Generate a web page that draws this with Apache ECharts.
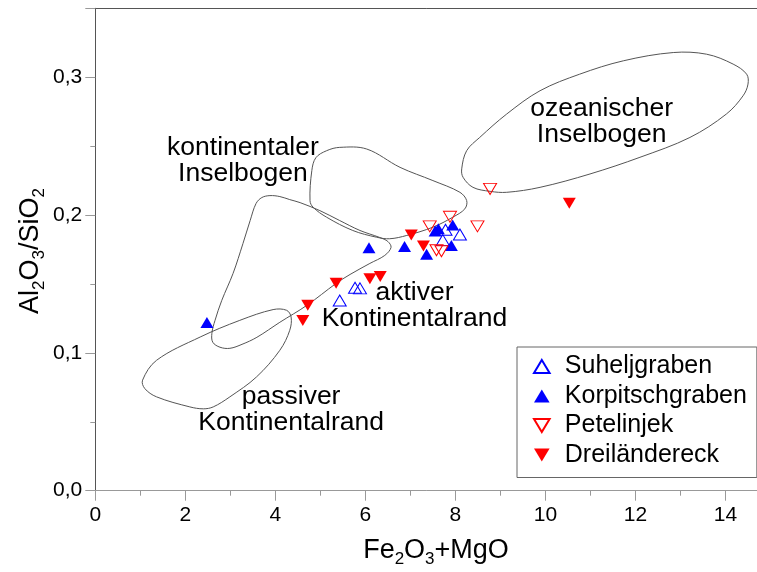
<!DOCTYPE html>
<html>
<head>
<meta charset="utf-8">
<script src="https://cdn.jsdelivr.net/npm/echarts@6/dist/echarts.min.js"></script>
<style>
  html, body { margin: 0; padding: 0; background: #fff; }
  #chart { width: 757px; height: 572px; }
</style>
</head>
<body>
<div id="chart"></div>
<script>
// Sample groups: [Fe2O3+MgO, Al2O3/SiO2]
const suheljgraben = [
  [5.43, 0.1380], [5.77, 0.1473], [5.88, 0.1468],
  [7.78, 0.1893], [8.10, 0.1859], [7.72, 0.1818]
];
const korpitschgraben = [
  [2.48, 0.1220], [6.08, 0.1762], [6.87, 0.1772], [7.36, 0.1715],
  [7.55, 0.1885], [7.62, 0.1900], [7.94, 0.1928], [7.91, 0.1779]
];
const petelinjek = [
  [7.43, 0.1918], [7.88, 0.1987], [8.49, 0.1918],
  [8.77, 0.2190], [7.58, 0.1745], [7.69, 0.1737]
];
const dreilaendereck = [
  [4.61, 0.1234], [4.72, 0.1345], [5.35, 0.1506], [6.10, 0.1538],
  [6.33, 0.1555], [7.02, 0.1855], [7.29, 0.1776], [10.53, 0.2086]
];

// Tectonic setting fields (outline vertices)
const fieldOzeanisch = [
  [8.14, 0.2335], [8.25, 0.2467], [8.54, 0.2563], [9.14, 0.2733], [9.88, 0.2902],
  [10.76, 0.3022], [11.73, 0.3119], [12.84, 0.3179], [13.58, 0.3167], [14.17, 0.3095],
  [14.47, 0.3022], [14.50, 0.2950], [14.39, 0.2865], [14.02, 0.2733], [13.21, 0.2563],
  [12.10, 0.2419], [10.99, 0.2298], [9.88, 0.2201], [9.14, 0.2165], [8.77, 0.2172],
  [8.39, 0.2201], [8.17, 0.2274]
];
const fieldKontinental = [
  [4.77, 0.2104], [4.81, 0.2322], [4.90, 0.2416], [5.14, 0.2467], [5.43, 0.2491],
  [6.03, 0.2479], [6.77, 0.2346], [7.50, 0.2250], [8.10, 0.2165], [8.25, 0.2105],
  [8.21, 0.2045], [7.94, 0.1984], [7.50, 0.1912], [6.92, 0.1852], [6.54, 0.1828],
  [6.25, 0.1839], [5.72, 0.1888], [5.14, 0.1984], [4.84, 0.2056]
];
const fieldAktiv = [
  [2.61, 0.1077], [2.59, 0.1142], [2.66, 0.1236], [2.81, 0.1381], [3.06, 0.1576],
  [3.28, 0.1793], [3.44, 0.1960], [3.57, 0.2083], [3.70, 0.2127], [3.88, 0.2141],
  [4.10, 0.2134], [4.32, 0.2112], [4.55, 0.2090], [4.99, 0.2032], [5.43, 0.1960],
  [5.88, 0.1888], [6.32, 0.1837], [6.50, 0.1808], [6.57, 0.1765], [6.43, 0.1707],
  [6.10, 0.1649], [5.66, 0.1569], [5.35, 0.1504], [4.70, 0.1345], [4.10, 0.1222],
  [3.59, 0.1113], [3.26, 0.1062], [2.99, 0.1033], [2.77, 0.1041]
];
const fieldPassiv = [
  [1.05, 0.0802], [1.36, 0.0946], [2.33, 0.1115], [3.21, 0.1236], [3.95, 0.1314],
  [4.25, 0.1309], [4.35, 0.1260], [4.32, 0.1164], [4.10, 0.1019], [3.58, 0.0825],
  [2.99, 0.0681], [2.62, 0.0608], [2.40, 0.0594], [2.10, 0.0608], [1.36, 0.0681],
  [1.10, 0.0741]
];

// Field names placed at data positions
const fieldLabels = [
  [11.25, 0.2674, 'ozeanischer\nInselbogen'],
  [3.28, 0.2393, 'kontinentaler\nInselbogen'],
  [7.09, 0.1345, 'aktiver\nKontinentalrand'],
  [4.35, 0.0588, 'passiver\nKontinentalrand']
];

const seriesNames = ['Suheljgraben', 'Korpitschgraben', 'Petelinjek', 'Dreiländereck'];

const FONT = '"Liberation Sans", Arial, sans-serif';
const UP = 'path://M6,0L12,10L0,10Z';
const DOWN = 'path://M0,0L12,0L6,10Z';
const BLUE = '#0000ff';
const RED = '#ff0000';

function decimalComma(v) {
  return v.toFixed(1).replace('.', ',');
}

function envelope(points) {
  return {
    type: 'custom',
    silent: true,
    z: 1,
    data: points,
    encode: { x: 0, y: 1 },
    renderItem: function (params, api) {
      if (params.dataIndex !== 0) return null;
      const pts = points.map(function (p) { return api.coord(p); });
      return {
        type: 'polygon',
        shape: { points: pts, smooth: 0.35 },
        style: { fill: 'none', stroke: '#555', lineWidth: 1 }
      };
    }
  };
}

function markers(name, data, symbol, color, filled) {
  return {
    name: name,
    type: 'scatter',
    z: 3,
    data: data,
    symbol: symbol,
    symbolSize: [13, 11],
    itemStyle: filled
      ? { color: color, borderWidth: 0, opacity: 1 }
      : { color: 'rgba(255,255,255,0)', borderColor: color, borderWidth: 1, opacity: 1 }
  };
}

const chart = echarts.init(document.getElementById('chart'), null, { renderer: 'canvas' });

const rich = {
  n: { fontSize: 27, fontFamily: FONT, fill: '#000', lineHeight: 34, verticalAlign: 'middle' },
  s: { fontSize: 17, fontFamily: FONT, fill: '#000', lineHeight: 17, verticalAlign: 'bottom' }
};

chart.setOption({
  animation: false,
  backgroundColor: '#fff',
  textStyle: { fontFamily: FONT },
  grid: { left: 95.3, top: 8.3, right: 0, bottom: 81.3, containLabel: false },
  xAxis: [{
    type: 'value',
    min: 0, max: 14.7, interval: 2,
    axisLine: { show: true, onZero: false, lineStyle: { color: '#999', width: 1 } },
    axisTick: { show: true, length: 10, lineStyle: { color: '#999' } },
    minorTick: { show: true, splitNumber: 2, length: 5, lineStyle: { color: '#999' } },
    splitLine: { show: false },
    axisLabel: { fontSize: 21, color: '#000', margin: 14, fontFamily: FONT, showMaxLabel: false }
  }, {
    type: 'value',
    position: 'top',
    min: 0, max: 14.7,
    axisLine: { show: true, onZero: false, lineStyle: { color: '#555', width: 1 } },
    axisTick: { show: false },
    axisLabel: { show: false },
    splitLine: { show: false }
  }],
  yAxis: {
    type: 'value',
    min: 0, max: 0.35, interval: 0.1,
    axisLine: { show: true, onZero: false, lineStyle: { color: '#555', width: 1 } },
    axisTick: { show: true, length: 10, lineStyle: { color: '#999' } },
    minorTick: { show: true, splitNumber: 2, length: 5, lineStyle: { color: '#999' } },
    splitLine: { show: false },
    axisLabel: { fontSize: 21, color: '#000', margin: 13, fontFamily: FONT, showMaxLabel: false,
      formatter: decimalComma }
  },
  legend: {
    data: seriesNames,
    orient: 'vertical',
    left: 517, top: 347,
    padding: [7, 10, 10, 16],
    itemWidth: 36, itemHeight: 13, itemGap: 4.5,
    borderColor: '#666', borderWidth: 1,
    backgroundColor: '#fff',
    textStyle: { fontSize: 25, color: '#000', fontFamily: FONT, lineHeight: 25, width: 180 }
  },
  graphic: [
    {
      type: 'text', x: 436, y: 551, z: 10,
      style: { text: '{n|Fe}{s|2}{n|O}{s|3}{n|+MgO}', rich: rich, align: 'center', verticalAlign: 'middle' }
    },
    {
      type: 'text', x: 31, y: 251, rotation: Math.PI / 2, z: 10,
      style: { text: '{n|Al}{s|2}{n|O}{s|3}{n|/SiO}{s|2}', rich: rich, align: 'center', verticalAlign: 'middle' }
    }
  ],
  series: [
    envelope(fieldOzeanisch),
    envelope(fieldKontinental),
    envelope(fieldAktiv),
    envelope(fieldPassiv),
    {
      type: 'scatter',
      silent: true,
      z: 2,
      data: fieldLabels,
      symbolSize: 0,
      itemStyle: { opacity: 1 },
      label: {
        show: true, position: 'inside',
        formatter: function (p) { return p.data[2]; },
        fontSize: 26.5, lineHeight: 26, color: '#000', fontFamily: FONT, align: 'center',
        opacity: 1
      }
    },
    markers(seriesNames[0], suheljgraben, UP, BLUE, false),
    markers(seriesNames[1], korpitschgraben, UP, BLUE, true),
    markers(seriesNames[2], petelinjek, DOWN, RED, false),
    markers(seriesNames[3], dreilaendereck, DOWN, RED, true)
  ]
});
</script>
</body>
</html>
